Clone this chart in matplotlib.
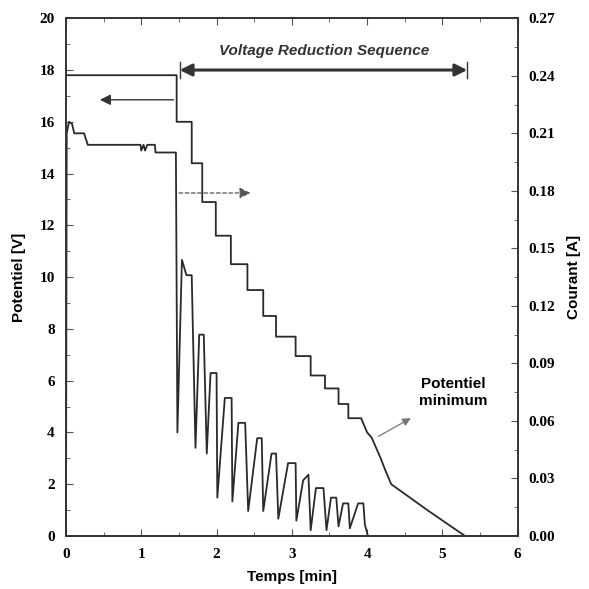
import numpy as np
import matplotlib
matplotlib.use('Agg')
import matplotlib.pyplot as plt
from matplotlib.ticker import MultipleLocator

# Potential (left axis): step levels during the voltage reduction sequence
step_t = [0.0, 1.47, 1.67, 1.81, 1.99, 2.19, 2.41, 2.62, 2.79, 3.05, 3.25, 3.44, 3.62, 3.75]
step_v = [17.8, 16.0, 14.4, 12.9, 11.6, 10.5, 9.5, 8.5, 7.7, 6.95, 6.2, 5.7, 5.1, 4.55]
# then the slow decline down to zero
tail_t = [3.92, 4.00, 4.06, 4.12, 4.18, 4.24, 4.32, 4.80, 5.30]
tail_v = [4.55, 4.0, 3.8, 3.4, 3.0, 2.55, 2.0, 1.0, 0.0]

# Current (right axis)
cur_t = [0.00, 0.01, 0.04, 0.08, 0.11, 0.24, 0.29, 0.99, 1.00, 1.03, 1.05, 1.08,
         1.18, 1.19, 1.46, 1.48, 1.54, 1.60, 1.67, 1.72, 1.77, 1.83, 1.87, 1.92, 2.00,
         2.01, 2.11, 2.20, 2.21, 2.29, 2.38, 2.42, 2.54, 2.60, 2.62, 2.73, 2.79, 2.82,
         2.95, 3.05, 3.06, 3.15, 3.22, 3.25, 3.32, 3.42, 3.46, 3.52, 3.59, 3.62, 3.68,
         3.75, 3.77, 3.88, 3.95, 3.97, 4.01]
cur_a = [0.000, 0.210, 0.216, 0.215, 0.210, 0.210, 0.204, 0.204, 0.201, 0.204,
         0.201, 0.204, 0.204, 0.200, 0.200, 0.054, 0.144, 0.136, 0.136, 0.046, 0.105,
         0.105, 0.043, 0.085, 0.085, 0.020, 0.072, 0.072, 0.018, 0.059, 0.059, 0.013,
         0.051, 0.051, 0.013, 0.043, 0.043, 0.009, 0.038, 0.038, 0.008, 0.029, 0.032,
         0.003, 0.025, 0.025, 0.003, 0.020, 0.020, 0.005, 0.017, 0.017, 0.004, 0.017,
         0.017, 0.006, 0.000]

x_ticks = [0, 1, 2, 3, 4, 5, 6]
v_ticks = [0, 2, 4, 6, 8, 10, 12, 14, 16, 18, 20]
a_ticks = [0.00, 0.03, 0.06, 0.09, 0.12, 0.15, 0.18, 0.21, 0.24, 0.27]

# expand the steps into a polyline
pot_t = [step_t[0]]
pot_v = [step_v[0]]
for i in range(1, len(step_t)):
    pot_t += [step_t[i], step_t[i]]
    pot_v += [step_v[i - 1], step_v[i]]
pot_t += tail_t
pot_v += tail_v

tick_font = dict(family='Liberation Serif', weight='bold', size=11)
lab_font = dict(family='Liberation Sans', weight='bold', size=11)
line_col = '#2a2a2a'

fig = plt.figure(figsize=(5.89, 5.89), dpi=100)
ax = fig.add_axes([0.112, 0.09, 0.767, 0.879])
ax2 = ax.twinx()

ax.plot(pot_t, pot_v, color=line_col, lw=1.3)
ax2.plot(cur_t, cur_a, color=line_col, lw=1.3)

ax.set_xlim(0, 6)
ax.set_ylim(0, 20)
ax2.set_ylim(0, 0.27)

ax.set_xticks(x_ticks)
ax.set_xticklabels([str(v) for v in x_ticks], **tick_font)
ax.set_yticks(v_ticks)
ax.set_yticklabels([str(v) for v in v_ticks], **tick_font)
ax2.set_yticks(a_ticks)
ax2.set_yticklabels(['%.2f' % v for v in a_ticks], **tick_font)
ax.xaxis.set_minor_locator(MultipleLocator(0.5))
ax.yaxis.set_minor_locator(MultipleLocator(1))
ax2.yaxis.set_minor_locator(MultipleLocator(0.015))

ax.tick_params(which='both', direction='in', top=True, right=False, color='#555')
ax.tick_params(which='major', length=5)
ax.tick_params(which='minor', length=3)
ax.tick_params(axis='x', pad=9)
ax.tick_params(axis='y', pad=8)
ax2.tick_params(which='both', direction='in', color='#555')
ax2.tick_params(which='major', length=5, pad=8)
ax2.tick_params(which='minor', length=3)

for a in (ax, ax2):
    for s in a.spines.values():
        s.set_color('#333')
        s.set_linewidth(1.2)

ax.set_xlabel('Temps [min]', labelpad=6, **lab_font)
ax.set_ylabel('Potentiel [V]', labelpad=10, **lab_font)
ax2.set_ylabel('Courant [A]', rotation=90, labelpad=8, **lab_font)

# annotations
ax.text(3.43, 18.75, 'Voltage Reduction Sequence', ha='center', va='center',
        family='Liberation Sans', weight='bold', style='italic', size=11, color='#333')
ax.annotate('', xy=(1.51, 18.0), xytext=(5.33, 18.0),
            arrowprops=dict(arrowstyle='<|-|>', color='#333', lw=2.2,
                            mutation_scale=18, shrinkA=0, shrinkB=0))
ax.plot([1.51, 1.51], [17.7, 18.3], color='#333', lw=1)
ax.plot([5.33, 5.33], [17.7, 18.3], color='#333', lw=1)

ax.annotate('', xy=(0.45, 16.85), xytext=(1.43, 16.85),
            arrowprops=dict(arrowstyle='-|>', color='#333', lw=1.0,
                            mutation_scale=16, shrinkA=0, shrinkB=0))
ax.annotate('', xy=(2.45, 13.25), xytext=(1.50, 13.25),
            arrowprops=dict(arrowstyle='-|>', color='#555', lw=0.9, ls=(0, (3, 2)),
                            mutation_scale=16, shrinkA=0, shrinkB=0))
ax.annotate('', xy=(4.58, 4.55), xytext=(4.15, 3.85),
            arrowprops=dict(arrowstyle='-|>', color='#777', lw=0.9,
                            mutation_scale=12, shrinkA=0, shrinkB=0))
ax.text(5.14, 5.55, 'Potentiel\nminimum', ha='center', va='center',
        linespacing=1.3, **lab_font)

fig.savefig('out.png', dpi=100)
